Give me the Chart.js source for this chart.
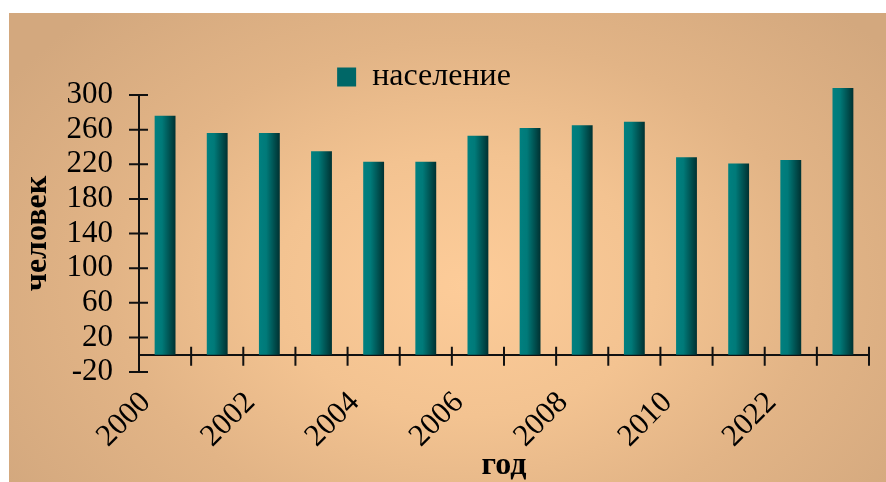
<!DOCTYPE html>
<html>
<head>
<meta charset="utf-8">
<script src="https://cdn.jsdelivr.net/npm/chart.js@4.4.1/dist/chart.umd.min.js"></script>
<style>
    body { margin: 0; background: #ffffff; }
    #wrap {
        position: absolute; left: 9px; top: 13px; width: 877px; height: 469px;
        background: radial-gradient(ellipse 62% 80% at 52% 58%, #fdcc99 0%, #f3c391 35%, #e2b486 65%, #d3a87e 100%);
    }
</style>
</head>
<body>
<div id="wrap"><canvas id="barPoblacion" width="877" height="469"></canvas></div>
<script>
// годы (подписи категорий, показана каждая вторая)
var anios = ['2000', '2001', '2002', '2003', '2004', '2005', '2006', '2007',
    '2008', '2009', '2010', '2011', '2022', '2013'];
// население, человек
var poblacion = [276, 256, 256, 235, 223, 223, 253, 262, 265, 269, 228, 221, 225, 308];
var tituloY = 'человек';
var tituloX = 'год';
var serie = 'население';

var fuente = "'Liberation Serif', 'Times New Roman', serif";

function degradado(ctx, x0, x1) {
    var g = ctx.createLinearGradient(x0, 0, x1, 0);
    g.addColorStop(0, '#008080');
    g.addColorStop(0.35, '#007a79');
    g.addColorStop(1, '#003131');
    return g;
}

// marcas cruzadas en los ejes, como en Excel
const marcasCruz = {
    id: 'marcasCruz',
    afterDatasetsDraw: function (chart) {
        var ctx = chart.ctx;
        var sx = chart.scales.x, sy = chart.scales.y;
        var y0 = sy.getPixelForValue(0);
        ctx.save();
        ctx.strokeStyle = '#111111';
        ctx.lineWidth = 2;
        ctx.beginPath();
        for (var i = 0; i < sy.ticks.length; i++) {
            var py = sy.getPixelForTick(i);
            ctx.moveTo(chart.chartArea.left - 10, py);
            ctx.lineTo(chart.chartArea.left + 9, py);
        }
        for (var j = 1; j <= anios.length; j++) {
            var px = sx.getPixelForValue(j - 0.5);
            ctx.moveTo(px, y0 - 8);
            ctx.lineTo(px, y0 + 11);
        }
        ctx.stroke();
        ctx.restore();
    },
    afterLayout: function (chart) {
        // la leyenda está corrida a la izquierda en el original
        var lg = chart.legend;
        lg.left -= 15;
        lg.right -= 15;
    }
};

const ctx = document.getElementById('barPoblacion').getContext('2d');
const myChart = new Chart(ctx, {
    type: 'bar',
    data: {
        labels: anios,
        datasets: [{
            label: serie,
            data: poblacion,
            backgroundColor: function (c) {
                var chart = c.chart;
                if (!chart.chartArea || c.dataIndex === undefined) {
                    return '#007070';
                }
                var sx = chart.scales.x;
                var ancho = (sx.width / anios.length) * 0.4;
                var cx = sx.getPixelForValue(c.dataIndex);
                return degradado(chart.ctx, cx - ancho / 2, cx + ancho / 2);
            },
            borderWidth: 0,
            barPercentage: 0.4,
            categoryPercentage: 1,
            clip: false
        }]
    },
    plugins: [marcasCruz],
    options: {
        responsive: false,
        animation: false,
        layout: { padding: { left: 0, right: 17, top: 46, bottom: 110 } },
        plugins: {
            legend: {
                position: 'top',
                maxHeight: 36,
                labels: {
                    color: '#000000',
                    font: { family: fuente, size: 32 },
                    boxWidth: 19,
                    boxHeight: 19,
                    padding: 2,
                    generateLabels: function (chart) {
                        return [{
                            text: serie,
                            fillStyle: '#006767',
                            strokeStyle: 'transparent',
                            lineWidth: 0,
                            datasetIndex: 0
                        }];
                    }
                }
            },
            tooltip: { enabled: false }
        },
        scales: {
            x: {
                position: { y: 0 },
                offset: true,
                grid: { display: false, drawTicks: false },
                border: { display: true, color: '#111111', width: 2 },
                ticks: {
                    autoSkip: false,
                    minRotation: 45,
                    maxRotation: 45,
                    padding: 30,
                    labelOffset: -19,
                    color: '#000000',
                    font: { family: fuente, size: 31 },
                    callback: function (v, i) {
                        return i % 2 === 0 ? anios[i] : null;
                    }
                },
                title: {
                    display: true,
                    text: tituloX,
                    color: '#000000',
                    font: { family: fuente, size: 32, weight: 'bold' },
                    padding: { top: 0, bottom: -20 }
                },
                afterFit: function (scale) {
                    scale.height = 110;
                    scale.paddingLeft = 0;
                    scale.paddingRight = 0;
                }
            },
            y: {
                min: -20,
                max: 300,
                grid: { display: false, drawTicks: false },
                border: { display: true, color: '#111111', width: 2 },
                ticks: {
                    stepSize: 40,
                    autoSkip: false,
                    padding: 26,
                    color: '#000000',
                    font: { family: fuente, size: 31 }
                },
                title: {
                    display: true,
                    text: tituloY,
                    color: '#000000',
                    font: { family: fuente, size: 32, weight: 'bold' },
                    padding: { top: 10, bottom: 0 }
                },
                afterFit: function (scale) { scale.width = 130; }
            }
        }
    }
});
</script>
</body>
</html>
